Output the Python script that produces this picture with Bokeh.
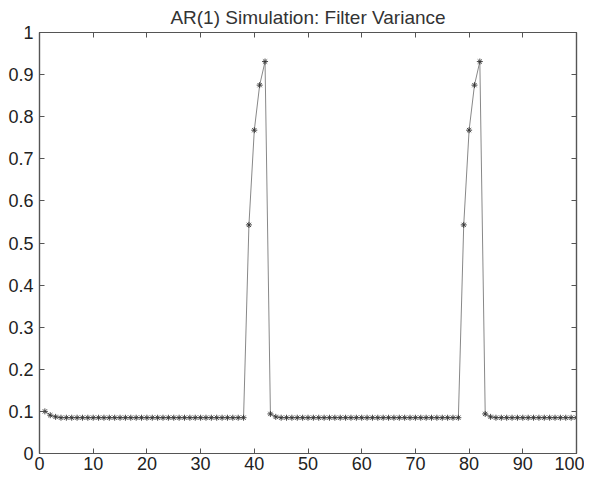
from bokeh.plotting import figure
from bokeh.embed import file_html
from bokeh.resources import INLINE
from bokeh.models import LinearAxis, FixedTicker, CustomJSTickFormatter, Range1d

t = list(range(1, 101))
variance = [
    0.100, 0.091, 0.087, 0.085, 0.085, 0.085, 0.085, 0.085, 0.085, 0.085,
    0.085, 0.085, 0.085, 0.085, 0.085, 0.085, 0.085, 0.085, 0.085, 0.085,
    0.085, 0.085, 0.085, 0.085, 0.085, 0.085, 0.085, 0.085, 0.085, 0.085,
    0.085, 0.085, 0.085, 0.085, 0.085, 0.085, 0.085, 0.085, 0.543, 0.768,
    0.875, 0.931, 0.094, 0.087, 0.085, 0.085, 0.085, 0.085, 0.085, 0.085,
    0.085, 0.085, 0.085, 0.085, 0.085, 0.085, 0.085, 0.085, 0.085, 0.085,
    0.085, 0.085, 0.085, 0.085, 0.085, 0.085, 0.085, 0.085, 0.085, 0.085,
    0.085, 0.085, 0.085, 0.085, 0.085, 0.085, 0.085, 0.085, 0.543, 0.768,
    0.875, 0.931, 0.094, 0.087, 0.085, 0.085, 0.085, 0.085, 0.085, 0.085,
    0.085, 0.085, 0.085, 0.085, 0.085, 0.085, 0.085, 0.085, 0.085, 0.085,
]
x_ticks = [0, 10, 20, 30, 40, 50, 60, 70, 80, 90, 100]
y_ticks = [0.0, 0.1, 0.2, 0.3, 0.4, 0.5, 0.6, 0.7, 0.8, 0.9, 1.0]
title_text = "AR(1) Simulation: Filter Variance"

FONT = "Liberation Sans"
AX = "#555555"

p = figure(width=584, height=474, output_backend="svg", toolbar_location=None,
           x_range=Range1d(0, 100), y_range=Range1d(0, 1),
           x_axis_location=None, y_axis_location=None,
           min_border_left=39, min_border_right=8, min_border_top=30, min_border_bottom=21)
p.title.text = title_text
p.title.align = "center"
p.title.text_font = FONT
p.title.text_font_size = "19px"
p.title.text_font_style = "normal"
p.title.text_color = "#333333"
p.title.offset = 0
p.title.standoff = 9
p.grid.visible = False
p.outline_line_color = AX
p.outline_line_width = 1.2
p.background_fill_color = "white"
p.border_fill_color = "white"

fmt = CustomJSTickFormatter(code="return Number(tick.toFixed(1)).toString();")
blank = CustomJSTickFormatter(code="return '';")

def make_axis(ticks, labels, standoff=4):
    ax = LinearAxis(ticker=FixedTicker(ticks=ticks), formatter=fmt if labels else blank)
    ax.major_tick_in = 5
    ax.major_tick_out = 0
    ax.minor_tick_line_color = None
    ax.axis_line_color = AX
    ax.axis_line_width = 1.2
    ax.major_tick_line_color = AX
    ax.major_label_text_font = FONT
    ax.major_label_text_color = "#222222"
    ax.major_label_text_font_size = "18px"
    ax.major_label_standoff = standoff if labels else 0
    return ax

p.add_layout(make_axis(x_ticks, True, 3), "below")
p.add_layout(make_axis(y_ticks, True, 6), "left")
p.add_layout(make_axis(x_ticks, False), "above")
p.add_layout(make_axis(y_ticks, False), "right")

p.line(t, variance, line_color="#888888", line_width=1)
p.scatter(t, variance, marker="asterisk", size=6, line_color="#333333", line_width=0.9)

open("out.html", "w").write(file_html(p, INLINE))
